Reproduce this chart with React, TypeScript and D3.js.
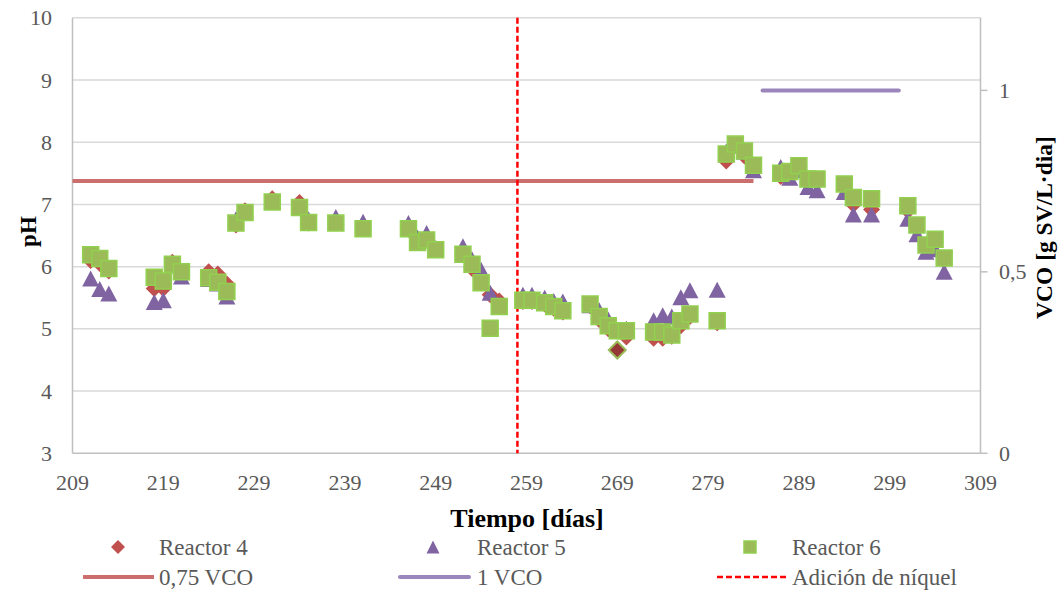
import React from "react";
import * as d3 from "d3";

// Sampling days (shared by the three reactors)
const days = [
  211, 212, 213, 218, 219, 220, 221, 224, 225, 226, 227, 228, 231, 234, 235, 238, 241,
  246, 247, 248, 249, 252, 253, 254, 255, 256, 258.6, 259.6, 261, 262, 263, 266, 267,
  268, 269, 270, 273, 274, 275, 276, 277, 280, 281, 282, 283, 284, 287, 288, 289, 290,
  291, 294, 295, 297, 301, 302, 303, 304, 305,
];

// pH per reactor
const reactor4 = [
  6.1, 6.05, 5.93, 5.65, 5.65, 6.07, 5.9, 5.92, 5.88, 5.72, 6.67, 6.9, 7.09, 7.03, 6.7, 6.72, 6.62,
  6.6, 6.4, 6.45, 6.28, 6.2, 5.97, 5.82, 5.55, 5.45, 5.44, 5.44, 5.4, 5.33, 5.27, 5.37, 5.15,
  5.0, 4.66, 4.87, 4.85, 4.85, 4.88, 5.05, 5.2, 5.1, 7.7, 7.95, 7.78, 7.6, 7.45, 7.45, 7.6, 7.35,
  7.35, 7.3, 7.0, 6.92, 6.9, 6.6, 6.35, 6.4, 6.1,
];
const reactor5 = [
  5.81, 5.64, 5.57, 5.43, 5.46, 6.02, 5.84, 5.8, 5.73, 5.52, 6.76, 6.88, 7.05, 6.96, 6.76, 6.8, 6.72,
  6.7, 6.47, 6.54, 6.3, 6.33, 6.12, 5.95, 5.58, 5.4, 5.55, 5.55, 5.5, 5.45, 5.44, 5.38, 5.3,
  5.15, 4.98, 5.0, 5.14, 5.22, 5.2, 5.51, 5.62, 5.63, 7.85, 7.95, 7.85, 7.55, 7.6, 7.43, 7.55, 7.28,
  7.23, 7.2, 6.84, 6.84, 6.77, 6.52, 6.24, 6.28, 5.92,
];
const reactor6 = [
  6.19, 6.13, 5.97, 5.83, 5.77, 6.04, 5.92, 5.82, 5.75, 5.6, 6.7, 6.87, 7.04, 6.95, 6.71, 6.7, 6.61,
  6.61, 6.39, 6.43, 6.27, 6.2, 6.04, 5.74, 5.01, 5.36, 5.46, 5.46, 5.42, 5.36, 5.29, 5.4, 5.2,
  5.05, 4.97, 4.97, 4.95, 4.95, 4.9, 5.13, 5.24, 5.13, 7.81, 7.97, 7.86, 7.63, 7.5, 7.53, 7.62, 7.41,
  7.41, 7.33, 7.11, 7.09, 6.98, 6.67, 6.35, 6.44, 6.14,
];
// Reactor 4 sample drawn with a dark fill
const highlightDay = 269;

// Organic loading rate reference lines (VCO, right axis)
const vco075 = { from: 209, to: 284, value: 0.75 };
const vco1 = { from: 285, to: 300, value: 1 };
// Nickel addition day
const nickelDay = 258;

const xTicks = [209, 219, 229, 239, 249, 259, 269, 279, 289, 299, 309];
const phTicks = [3, 4, 5, 6, 7, 8, 9, 10];
const vcoTicks = [0, 0.5, 1];

const W = 1059;
const H = 590;
const left = 72.5;
const right = 980.5;
const top = 17.8;
const bottom = 453.3;

const x = d3.scaleLinear().domain([209, 309]).range([left, right]);
const y = d3.scaleLinear().domain([3, 10]).range([bottom, top]);
const y2 = d3.scaleLinear().domain([0, 1.2]).range([bottom, top]);

const RED = "#C0504D";
const PURPLE = "#8064A2";
const GREEN = "#9BBB59";
const GREEN_EDGE = "#92D050";
const TEXT = "#595959";
const FONT = "Liberation Serif, DejaVu Serif, serif";

const diamondPath = (cx: number, cy: number, r: number) =>
  `M${cx},${cy - r}L${cx + r},${cy}L${cx},${cy + r}L${cx - r},${cy}Z`;
const trianglePath = (cx: number, cy: number, w: number, h: number) =>
  `M${cx},${cy - h / 2}L${cx + w / 2},${cy + h / 2}L${cx - w / 2},${cy + h / 2}Z`;
const squarePath = (cx: number, cy: number, s: number) =>
  `M${cx - s / 2},${cy - s / 2}h${s}v${s}h${-s}Z`;

const fmt = (v: number) => String(v).replace(".", ",");

// plain label in the chart's serif face
const Label = (props: any) => (
  <text fontFamily={FONT} fill={TEXT} dominantBaseline="central" {...props} />
);

export default function App() {
  const legendRow1 = 547;
  const legendRow2 = 577;
  return (
    <svg
      width={W}
      height={H}
      viewBox={`0 0 ${W} ${H}`}
      style={{ position: "absolute", left: 0, top: 0, background: "#fff" }}
    >
      <rect x={0} y={0} width={W} height={H} fill="#fff" />
      {/* horizontal gridlines */}
      {phTicks.slice(1).map((t) => (
        <line key={t} x1={left} x2={right} y1={y(t)} y2={y(t)} stroke="#D9D9D9" strokeWidth={1.5} />
      ))}
      {/* axis lines */}
      <line x1={left} x2={left} y1={top} y2={bottom} stroke="#BFBFBF" strokeWidth={1.5} />
      <line x1={right} x2={right} y1={top} y2={bottom} stroke="#BFBFBF" strokeWidth={1.5} />
      <line x1={left} x2={right} y1={bottom} y2={bottom} stroke="#BFBFBF" strokeWidth={1.5} />
      {vcoTicks.map((t) => (
        <line key={t} x1={right} x2={right + 7} y1={y2(t)} y2={y2(t)} stroke="#BFBFBF" strokeWidth={1.5} />
      ))}

      {/* tick labels */}
      {phTicks.map((t) => (
        <Label key={t} x={52} y={y(t)} textAnchor="end" fontSize={22}>
          {t}
        </Label>
      ))}
      {vcoTicks.map((t) => (
        <Label key={t} x={999} y={y2(t)} textAnchor="start" fontSize={22}>
          {fmt(t)}
        </Label>
      ))}
      {xTicks.map((t) => (
        <Label key={t} x={x(t)} y={482} textAnchor="middle" fontSize={22}>
          {t}
        </Label>
      ))}

      {/* axis titles */}
      <Label x={527} y={518} textAnchor="middle" fontSize={26} fontWeight="bold" fill="#000">
        Tiempo [días]
      </Label>
      <Label
        transform={`translate(28,${(top + bottom) / 2 - 4}) rotate(-90)`}
        textAnchor="middle"
        fontSize={23}
        fontWeight="bold"
        fill="#000"
      >
        pH
      </Label>
      <Label
        transform={`translate(1044,${(top + bottom) / 2 - 8}) rotate(-90)`}
        textAnchor="middle"
        fontSize={23.5}
        fontWeight="bold"
        fill="#000"
      >
        VCO [g SV/L·dia]
      </Label>

      {/* VCO reference lines */}
      <line
        x1={x(vco075.from)}
        x2={x(vco075.to)}
        y1={y2(vco075.value)}
        y2={y2(vco075.value)}
        stroke="#CC6E6E"
        strokeWidth={4}
      />
      <line
        x1={x(vco1.from)}
        x2={x(vco1.to)}
        y1={y2(vco1.value)}
        y2={y2(vco1.value)}
        stroke="#9B86BC"
        strokeWidth={4}
        strokeLinecap="round"
      />
      {/* nickel addition */}
      <line
        x1={x(nickelDay)}
        x2={x(nickelDay)}
        y1={top}
        y2={bottom}
        stroke="#FF0000"
        strokeWidth={2.5}
        strokeDasharray="6,3"
      />

      {/* Reactor 4 */}
      {days.map((d, i) => {
        const hl = d === highlightDay;
        return (
          <path
            key={`r4-${i}`}
            d={diamondPath(x(d), y(reactor4[i]), 8.5)}
            fill={hl ? "#953735" : RED}
            stroke={hl ? GREEN : "none"}
            strokeWidth={hl ? 2 : 0}
          />
        );
      })}
      {/* Reactor 5 */}
      {days.map((d, i) => (
        <path key={`r5-${i}`} d={trianglePath(x(d), y(reactor5[i]), 17, 16)} fill={PURPLE} />
      ))}
      {/* Reactor 6 */}
      {days.map((d, i) => (
        <path
          key={`r6-${i}`}
          d={squarePath(x(d), y(reactor6[i]), 16)}
          fill={GREEN}
          stroke={GREEN_EDGE}
          strokeWidth={1.5}
        />
      ))}

      {/* legend */}
      <path d={diamondPath(118, legendRow1, 7)} fill={RED} />
      <Label x={159} y={legendRow1} fontSize={23}>
        Reactor 4
      </Label>
      <path d={trianglePath(433, legendRow1, 13, 13)} fill={PURPLE} />
      <Label x={477} y={legendRow1} fontSize={23}>
        Reactor 5
      </Label>
      <path d={squarePath(750, legendRow1, 12)} fill={GREEN} stroke={GREEN_EDGE} strokeWidth={1.5} />
      <Label x={792} y={legendRow1} fontSize={23}>
        Reactor 6
      </Label>

      <line x1={83} x2={154} y1={legendRow2} y2={legendRow2} stroke="#CC6E6E" strokeWidth={4} />
      <Label x={159} y={legendRow2} fontSize={23}>
        0,75 VCO
      </Label>
      <line x1={400} x2={469} y1={legendRow2} y2={legendRow2} stroke="#9B86BC" strokeWidth={4} strokeLinecap="round" />
      <Label x={477} y={legendRow2} fontSize={23}>
        1 VCO
      </Label>
      <line x1={717} x2={786} y1={legendRow2} y2={legendRow2} stroke="#FF0000" strokeWidth={2.5} strokeDasharray="6,3" />
      <Label x={792} y={legendRow2} fontSize={23}>
        Adición de níquel
      </Label>
    </svg>
  );
}
